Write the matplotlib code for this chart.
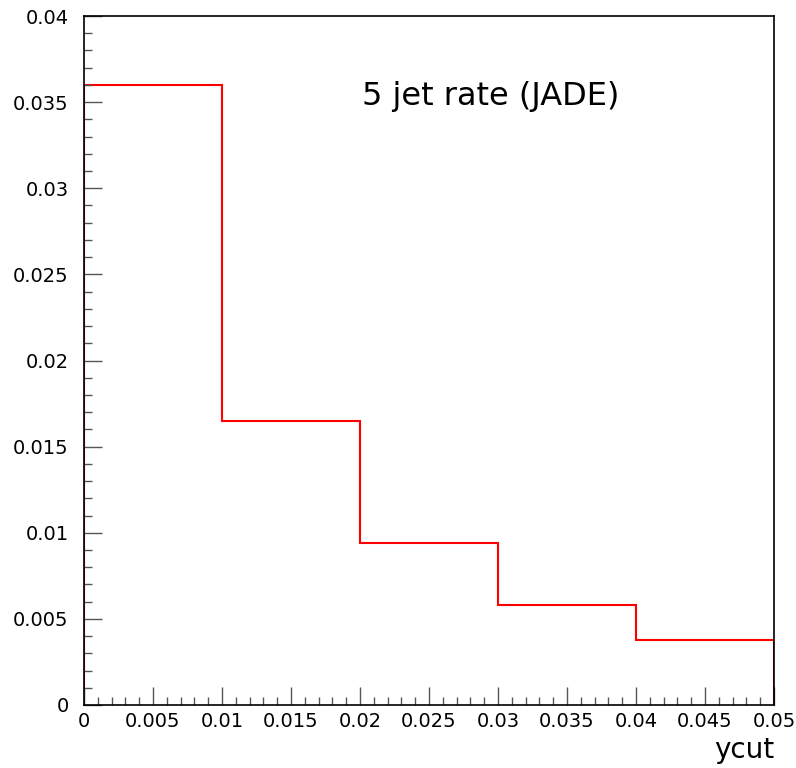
import matplotlib.pyplot as plt
from matplotlib.ticker import MultipleLocator

# bin edges in ycut and the 5 jet rate in each bin
edges = [0.0, 0.01, 0.02, 0.03, 0.04, 0.05]
rate = [0.036, 0.0165, 0.0094, 0.0058, 0.0038]

fig = plt.figure(figsize=(7.96, 7.68), dpi=100)
ax = fig.add_axes([84 / 796, 1 - 705 / 768, 690 / 796, 689 / 768])

ax.stairs(rate, edges, baseline=0, color='red', linewidth=1.5)

ax.set_xlim(0, 0.05)
ax.set_ylim(0, 0.04)
ax.xaxis.set_major_locator(MultipleLocator(0.005))
ax.xaxis.set_minor_locator(MultipleLocator(0.001))
ax.yaxis.set_major_locator(MultipleLocator(0.005))
ax.yaxis.set_minor_locator(MultipleLocator(0.001))
ax.xaxis.set_major_formatter(lambda v, p: '0' if v == 0 else ('%g' % round(v, 4)))
ax.yaxis.set_major_formatter(lambda v, p: '0' if v == 0 else ('%g' % round(v, 4)))

ax.tick_params(which='both', direction='in', labelsize=14, color='#555555')
ax.tick_params(which='major', length=13, width=1)
ax.tick_params(which='minor', length=6, width=1)
ax.tick_params(axis='x', pad=5)
ax.tick_params(axis='y', pad=11)

for s in ax.spines.values():
    s.set_linewidth(1.2)
    s.set_color('black')

ax.text(0.02015, 0.0353, '5 jet rate (JADE)', fontsize=23, ha='left', va='center')
ax.set_xlabel('ycut', fontsize=20, loc='right', labelpad=4)

plt.savefig('out.png', dpi=100)
